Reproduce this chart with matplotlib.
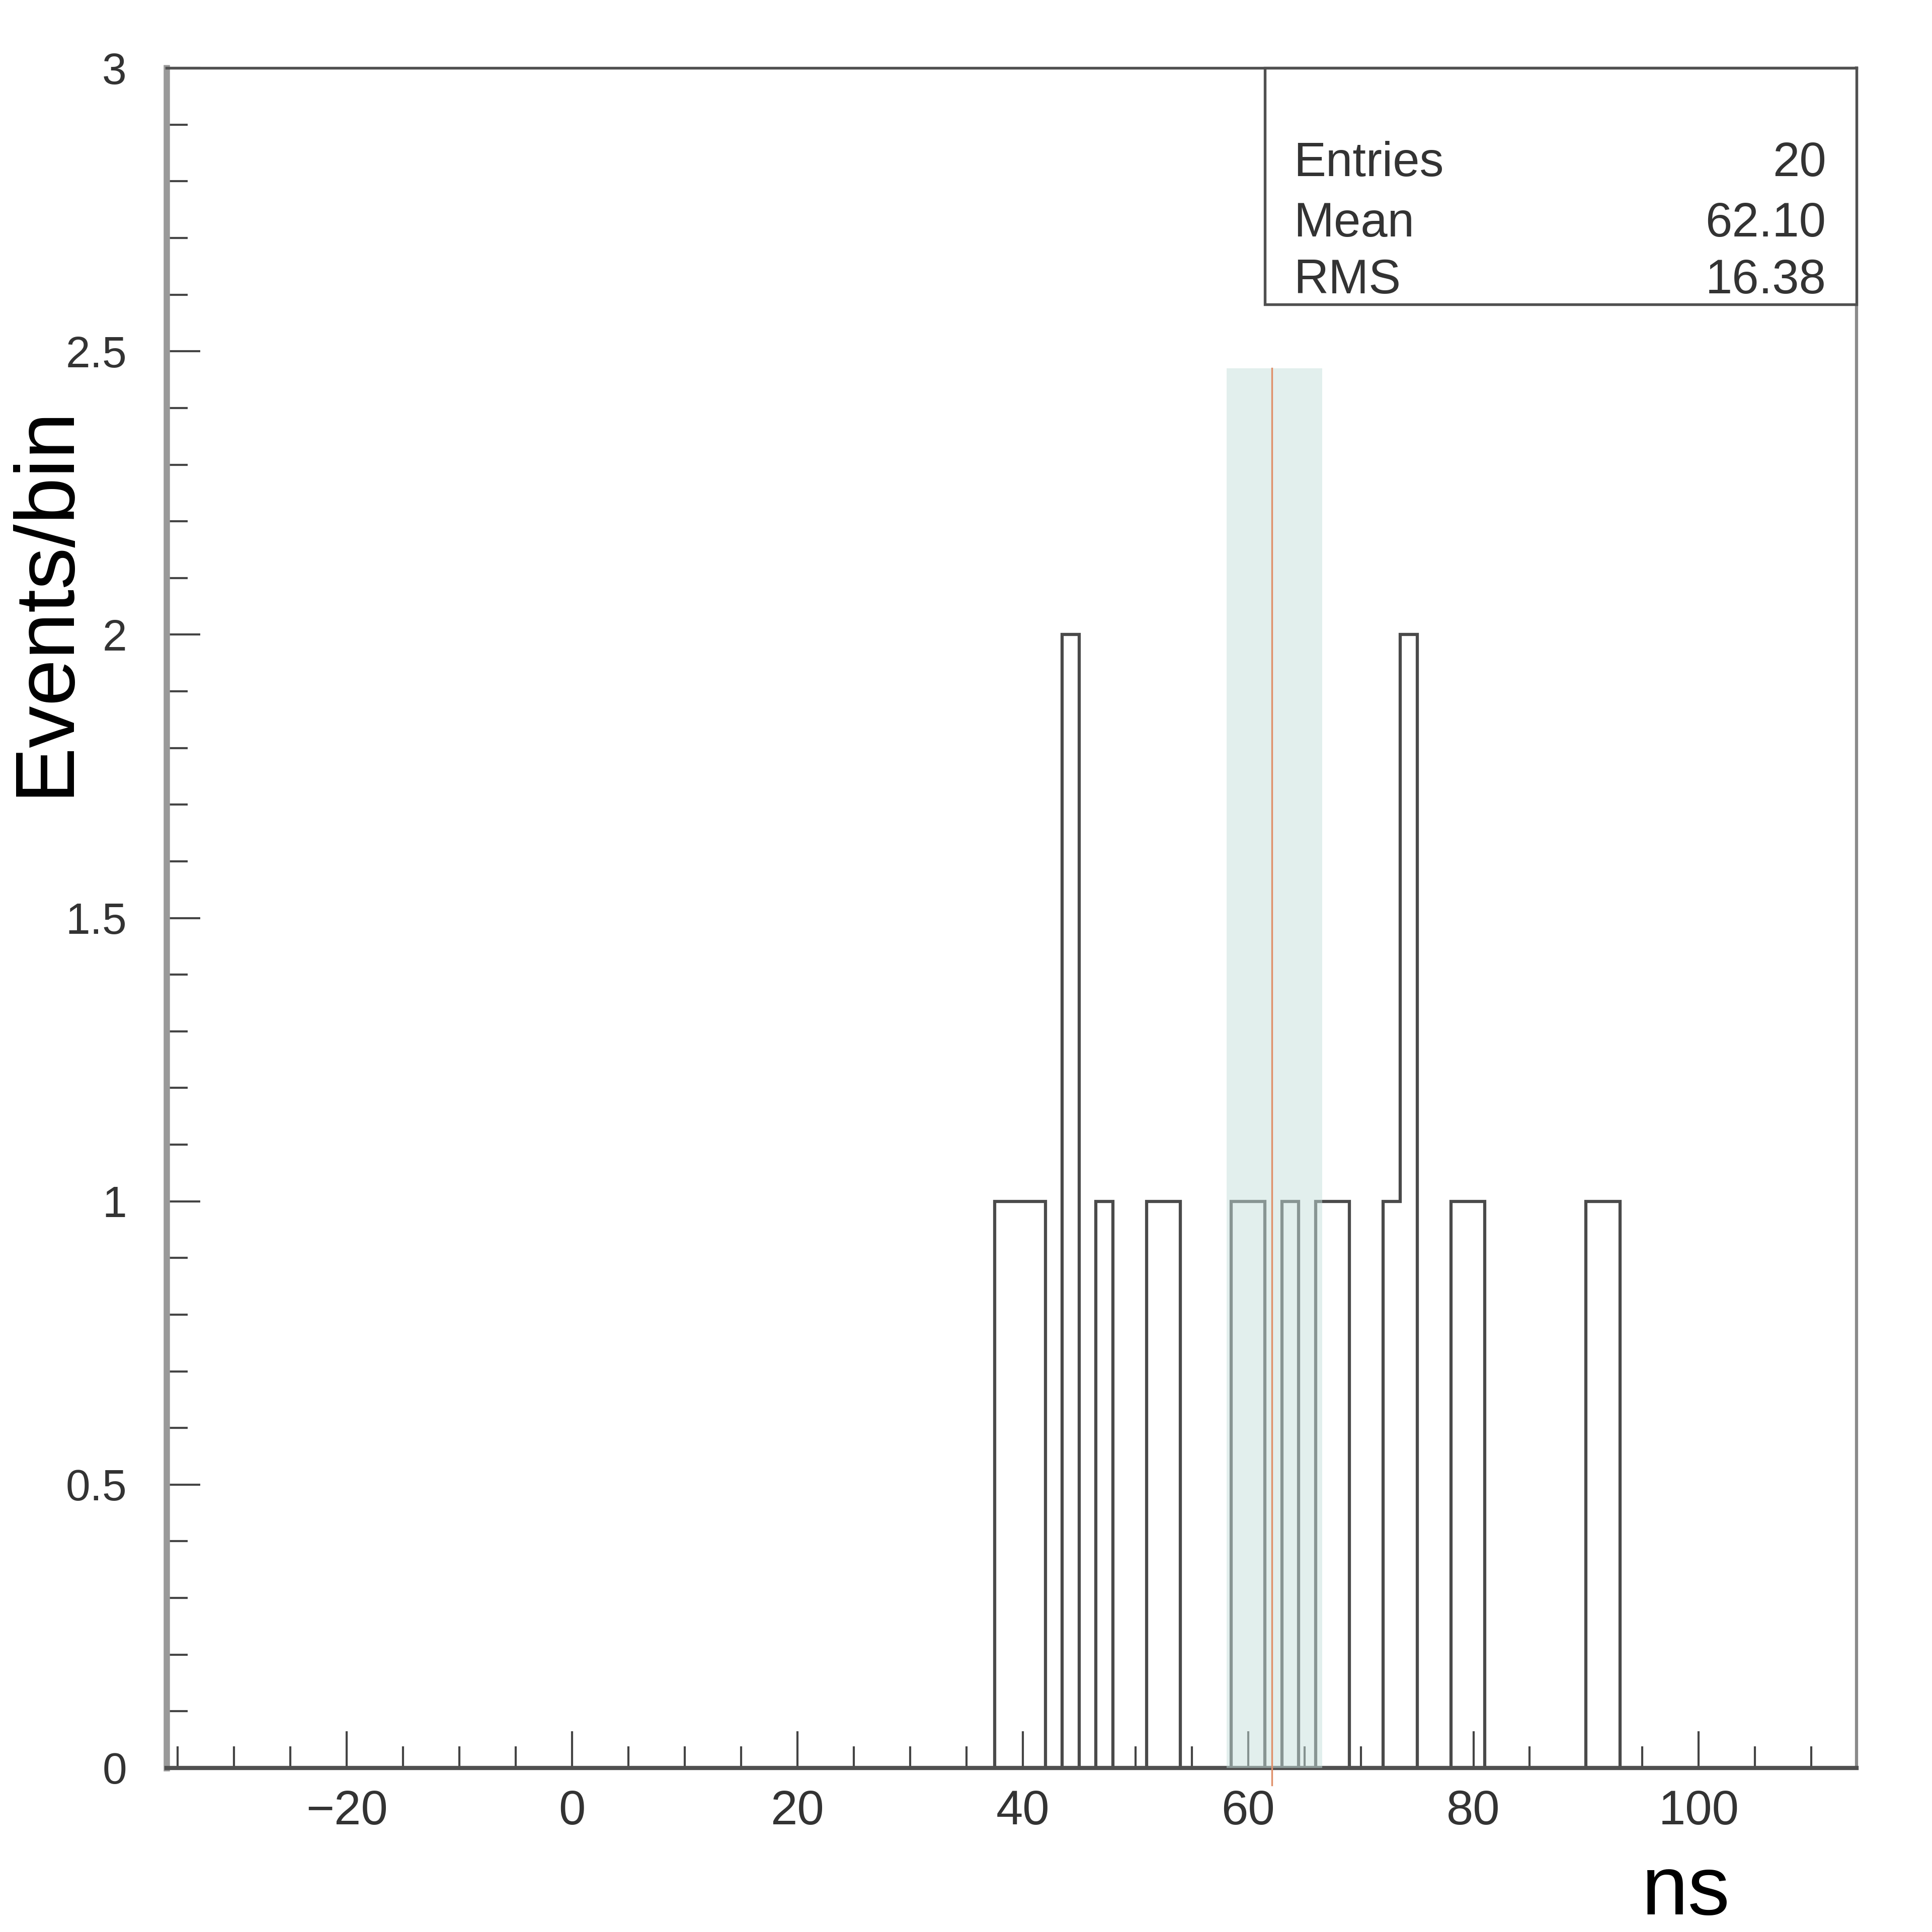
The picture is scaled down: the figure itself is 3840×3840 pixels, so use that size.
import matplotlib.pyplot as plt
import numpy as np
from matplotlib.ticker import MultipleLocator, FuncFormatter
from matplotlib.patches import Rectangle

plt.rcParams['font.family'] = ['Liberation Sans', 'DejaVu Sans']

# histogram binning (100 bins of 1.5 ns) and the filled bins
bin_lo = -36.0
bin_width = 1.5
n_bins = 100
filled_lo = [37.5, 39.0, 40.5, 43.5, 46.5, 51.0, 52.5, 58.5, 60.0, 63.0,
             66.0, 67.5, 72.0, 73.5, 78.0, 79.5, 90.0, 91.5]
filled_n = [1, 1, 1, 2, 1, 1, 1, 1, 1, 1, 1, 1, 1, 2, 1, 1, 1, 1]

# mean marker and band
mean_x = 62.1
band_lo, band_hi = 58.1, 66.6
band_top = 2.47

stats_labels = ["Entries", "Mean", "RMS"]
stats_values = ["20", "62.10", "16.38"]

edges = bin_lo + bin_width * np.arange(n_bins + 1)
counts = np.zeros(n_bins)
idx = np.round((np.array(filled_lo) - bin_lo) / bin_width).astype(int)
counts[idx] = filled_n

fig = plt.figure(figsize=(12.8, 12.8), dpi=300)
ax = fig.add_axes([0.0862, 0.0849, 0.8747, 0.8799])

ax.stairs(counts, edges, color='#4a4a4a', lw=1.5, baseline=0, zorder=2)
ax.fill_between([band_lo, band_hi], 0, band_top, color='#c6e0dd', alpha=0.5,
                lw=0, zorder=3)
ax.plot([mean_x, mean_x], [-0.03, band_top], color='#e0906a', lw=0.8,
        zorder=4, clip_on=False)

ax.set_xlim(-36, 114)
ax.set_ylim(0, 3)

ax.xaxis.set_major_locator(MultipleLocator(20))
ax.xaxis.set_minor_locator(MultipleLocator(5))
ax.yaxis.set_major_locator(MultipleLocator(0.5))
ax.yaxis.set_minor_locator(MultipleLocator(0.1))
ax.yaxis.set_major_formatter(FuncFormatter(lambda v, p: '%g' % v))

ax.tick_params(axis='x', which='major', direction='in', length=17.5, width=1,
               color='#444444', labelsize=23, pad=10, labelcolor='#333333')
ax.tick_params(axis='x', which='minor', direction='in', length=10.3, width=1,
               color='#444444')
ax.tick_params(axis='y', which='major', direction='in', length=16, width=1,
               color='#444444', labelsize=21, pad=19, labelcolor='#333333')
ax.tick_params(axis='y', which='minor', direction='in', length=10, width=1,
               color='#444444')

ax.spines['left'].set_color('#9a9a9a')
ax.spines['left'].set_linewidth(3)
ax.spines['bottom'].set_color('#505050')
ax.spines['bottom'].set_linewidth(2)
ax.spines['top'].set_color('#505050')
ax.spines['top'].set_linewidth(1.3)
ax.spines['right'].set_color('#8a8a8a')
ax.spines['right'].set_linewidth(1.5)

# stats box
ax.add_patch(Rectangle((0.650, 0.861), 0.35, 0.139, transform=ax.transAxes,
                       facecolor='white', edgecolor='#505050', lw=1.3,
                       zorder=5, clip_on=False))
ys = [0.9364, 0.9009, 0.8674]
for lab, val, y in zip(stats_labels, stats_values, ys):
    ax.text(0.667, y, lab, transform=ax.transAxes, fontsize=23,
            color='#333333', ha='left', va='baseline', zorder=6)
    ax.text(0.982, y, val, transform=ax.transAxes, fontsize=23,
            color='#333333', ha='right', va='baseline', zorder=6)

fig.text(0.0237, 0.689, 'Events/bin', rotation=90, ha='center', va='center',
         fontsize=40, color='black')
fig.text(0.8727, 0.009, 'ns', ha='center', va='baseline', fontsize=40,
         color='black')

fig.savefig('out.png', dpi=300)
